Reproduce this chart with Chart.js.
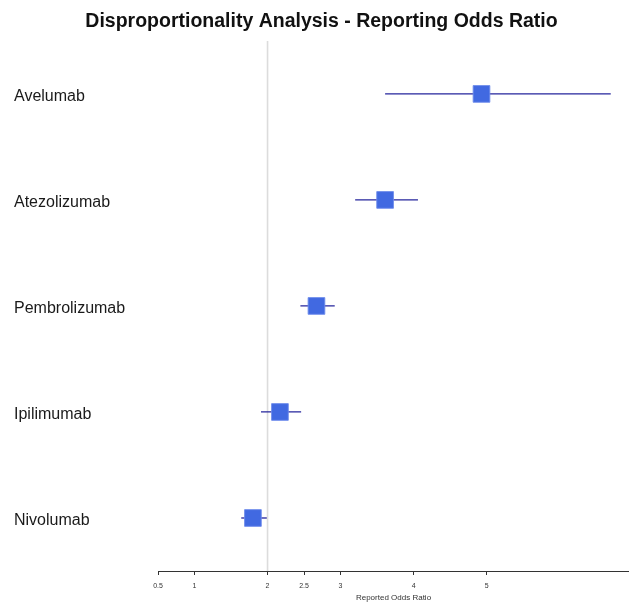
<!DOCTYPE html>
<html>
<head>
<meta charset="utf-8">
<script src="https://cdn.jsdelivr.net/npm/chart.js@4"></script>
<style>
  html, body { margin: 0; padding: 0; background: #ffffff; }
  canvas { display: block; }
</style>
</head>
<body>
<canvas id="forest" width="629" height="604"></canvas>
<script>
// Reporting odds ratios with confidence intervals, one row per drug
const drugs = ['Avelumab', 'Atezolizumab', 'Pembrolizumab', 'Ipilimumab', 'Nivolumab'];
const ror = [4.93, 3.61, 2.67, 2.17, 1.80];
const ciLower = [3.61, 3.20, 2.45, 1.91, 1.64];
const ciUpper = [6.70, 4.06, 2.92, 2.46, 1.99];
const xTicks = [0.5, 1, 2, 2.5, 3, 4, 5];
const refValue = 2;

const FONT = "'Liberation Sans', Arial, Helvetica, sans-serif";
const rowY = i => drugs.length - i;   // first drug on top

const datasets = [];

// point estimates as filled squares
datasets.push({
  type: 'scatter',
  order: 0,
  data: ror.map((v, i) => ({ x: v, y: rowY(i) })),
  pointStyle: 'rect',
  pointRadius: 11.8,
  pointHoverRadius: 11.8,
  backgroundColor: '#4169E1',
  borderColor: 'rgba(110,140,235,0.9)',
  borderWidth: 1
});

// confidence interval whiskers
drugs.forEach((d, i) => {
  datasets.push({
    type: 'line',
    order: 1,
    data: [{ x: ciLower[i], y: rowY(i) }, { x: ciUpper[i], y: rowY(i) }],
    borderColor: '#24249c',
    borderWidth: 1.3,
    pointRadius: 0,
    fill: false
  });
});

// reference line
datasets.push({
  type: 'line',
  order: 2,
  data: [{ x: refValue, y: 0.5 }, { x: refValue, y: drugs.length + 0.5 }],
  borderColor: '#dcdcdc',
  borderWidth: 1.6,
  pointRadius: 0,
  fill: false
});

new Chart(document.getElementById('forest'), {
  type: 'scatter',
  data: { datasets },
  options: {
    responsive: false,
    animation: false,
    layout: { autoPadding: false, padding: { left: 14, right: 0, top: 0, bottom: 0 } },
    plugins: {
      legend: { display: false },
      tooltip: { enabled: false },
      title: {
        display: true,
        text: 'Disproportionality Analysis - Reporting Odds Ratio',
        color: '#111111',
        font: { family: FONT, size: 19.5, weight: 'bold' },
        padding: { top: 9.5, bottom: 8 }
      }
    },
    scales: {
      x: {
        type: 'linear',
        position: 'bottom',
        min: 0.5,
        max: 6.95,
        afterBuildTicks: s => { s.ticks = xTicks.map(v => ({ value: v })); },
        afterFit: s => { s.height = 33; },
        ticks: {
          autoSkip: false,
          maxRotation: 0,
          padding: 7,
          color: '#333333',
          font: { family: FONT, size: 7 },
          callback: v => String(v)
        },
        grid: { drawOnChartArea: false, drawTicks: true, tickLength: 4, color: '#333333' },
        border: { display: true, color: '#333333', width: 1 },
        title: {
          display: true,
          text: 'Reported Odds Ratio',
          color: '#333333',
          font: { family: FONT, size: 8 },
          padding: { top: 0, bottom: 1.5 }
        }
      },
      y: {
        type: 'linear',
        min: 0.5,
        max: drugs.length + 0.5,
        afterBuildTicks: s => { s.ticks = drugs.map((d, i) => ({ value: rowY(i) })); },
        afterFit: s => { s.width = 144; },
        ticks: {
          crossAlign: 'far',
          labelOffset: 3,
          color: '#1a1a1a',
          font: { family: FONT, size: 16 },
          callback: v => drugs[drugs.length - v]
        },
        grid: { display: false },
        border: { display: false }
      }
    }
  }
});
</script>
</body>
</html>
